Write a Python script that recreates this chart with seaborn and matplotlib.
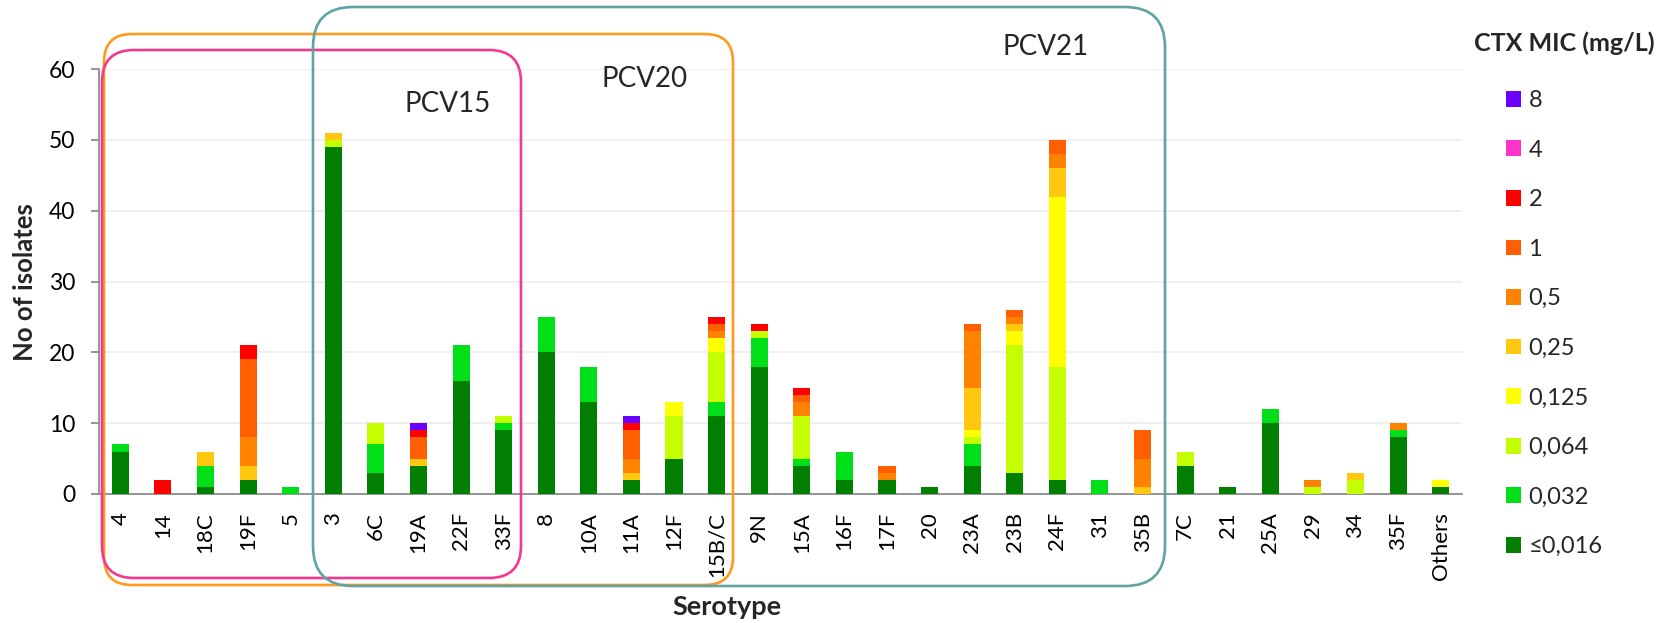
import matplotlib
matplotlib.use("Agg")
import matplotlib.pyplot as plt
from matplotlib.patches import FancyBboxPatch, Patch
from matplotlib.transforms import IdentityTransform
import seaborn as sns
import numpy as np
import pandas as pd

# ---------------- data ----------------
categories = ["4", "14", "18C", "19F", "5", "3", "6C", "19A", "22F", "33F",
              "8", "10A", "11A", "12F", "15B/C", "9N", "15A", "16F", "17F", "20",
              "23A", "23B", "24F", "31", "35B", "7C", "21", "25A", "29", "34",
              "35F", "Others"]

mic_levels = ["≤0,016", "0,032", "0,064", "0,125", "0,25", "0,5", "1", "2", "4", "8"]
mic_colors = ["#007F00", "#00DF18", "#C3FF00", "#FFFF00", "#FFC80F",
              "#FF8200", "#FF5F00", "#FF0000", "#FF35C8", "#6A00FF"]

#                 4 14 18C 19F 5  3  6C 19A 22F 33F 8  10A 11A 12F 15BC 9N 15A 16F 17F 20 23A 23B 24F 31 35B 7C 21 25A 29 34 35F Oth
mic_le0016 = [6, 0, 1, 2, 0, 49, 3, 4, 16, 9, 20, 13, 2, 5, 11, 18, 4, 2, 2, 1, 4, 3, 2, 0, 0, 4, 1, 10, 0, 0, 8, 1]
mic_0032   = [1, 0, 3, 0, 1, 0, 4, 0, 5, 1, 5, 5, 0, 0, 2, 4, 1, 4, 0, 0, 3, 0, 0, 2, 0, 0, 0, 2, 0, 0, 1, 0]
mic_0064   = [0, 0, 0, 0, 0, 1, 3, 0, 0, 1, 0, 0, 0, 6, 7, 1, 6, 0, 0, 0, 1, 18, 16, 0, 0, 2, 0, 0, 1, 2, 0, 0]
mic_0125   = [0, 0, 0, 0, 0, 0, 0, 0, 0, 0, 0, 0, 0, 2, 2, 0, 0, 0, 0, 0, 1, 2, 24, 0, 0, 0, 0, 0, 0, 0, 0, 1]
mic_025    = [0, 0, 2, 2, 0, 1, 0, 1, 0, 0, 0, 0, 1, 0, 0, 0, 0, 0, 0, 0, 6, 1, 4, 0, 1, 0, 0, 0, 0, 1, 0, 0]
mic_05     = [0, 0, 0, 4, 0, 0, 0, 0, 0, 0, 0, 0, 2, 0, 1, 0, 2, 0, 1, 0, 8, 1, 2, 0, 4, 0, 0, 0, 1, 0, 1, 0]
mic_1      = [0, 0, 0, 11, 0, 0, 0, 3, 0, 0, 0, 0, 4, 0, 1, 0, 1, 0, 1, 0, 1, 1, 2, 0, 4, 0, 0, 0, 0, 0, 0, 0]
mic_2      = [0, 2, 0, 2, 0, 0, 0, 1, 0, 0, 0, 0, 1, 0, 1, 1, 1, 0, 0, 0, 0, 0, 0, 0, 0, 0, 0, 0, 0, 0, 0, 0]
mic_4      = [0] * 32
mic_8      = [0, 0, 0, 0, 0, 0, 0, 1, 0, 0, 0, 0, 1, 0, 0, 0, 0, 0, 0, 0, 0, 0, 0, 0, 0, 0, 0, 0, 0, 0, 0, 0]

series = [mic_le0016, mic_0032, mic_0064, mic_0125, mic_025,
          mic_05, mic_1, mic_2, mic_4, mic_8]

df = pd.DataFrame({lvl: vals for lvl, vals in zip(mic_levels, series)}, index=categories)
cum = df.cumsum(axis=1)

# ---------------- figure ----------------
sns.set_theme(style="white")
plt.rcParams["font.family"] = ["Lato", "DejaVu Sans"]

W, H = 1666, 623
fig = plt.figure(figsize=(W / 100, H / 100), dpi=100)
ax = fig.add_axes([99 / W, 1 - 494 / H, (1462 - 99) / W, (494 - 69) / H])

# stacked bars: draw cumulative totals from top level down so lower layers overlay
for lvl, col in reversed(list(zip(mic_levels, mic_colors))):
    d = pd.DataFrame({"Serotype": categories, "val": cum[lvl].values})
    sns.barplot(data=d, x="Serotype", y="val", order=categories, color=col,
                saturation=1, width=0.4, linewidth=0, errorbar=None, ax=ax, zorder=3)

ax.set_xlim(-0.5, len(categories) - 0.5)
ax.set_ylim(0, 60)
ax.set_yticks(range(0, 61, 10))
ax.yaxis.grid(True, color="#EEEEEE", linewidth=1.3, zorder=0)
ax.xaxis.grid(False)
ax.set_axisbelow(True)

for s in ["top", "right"]:
    ax.spines[s].set_visible(False)
for s in ["left", "bottom"]:
    ax.spines[s].set_color("#8C8C8C")
    ax.spines[s].set_linewidth(1.3)

ax.set_xticks(range(len(categories)))
ax.set_xticklabels(categories, rotation=90, fontsize=16)
ax.set_xticks(np.arange(-0.5, len(categories), 1.0), minor=True)
ax.tick_params(axis="x", which="major", length=0, pad=13, colors="black")
ax.tick_params(axis="x", which="minor", length=6, width=1.3, color="#8C8C8C", direction="out")
ax.tick_params(axis="y", which="major", length=6, width=1.3, color="#8C8C8C",
               direction="out", left=True, pad=11, labelsize=16.5, labelcolor="black")
ax.set_xlabel("")
ax.set_ylabel("")

fig.text(25 / W, 1 - 282 / H, "No of isolates", rotation=90, ha="center", va="center",
         fontsize=18.5, fontweight="bold")
fig.text(727 / W, 1 - 607 / H, "Serotype", ha="center", va="center",
         fontsize=19.5, fontweight="bold")

# vaccine group boxes (pixel coordinates, origin top-left -> convert)
def box(x0, y0, x1, y1, color, r):
    p = FancyBboxPatch((x0, H - y1), x1 - x0, y1 - y0,
                       boxstyle=f"round,pad=0,rounding_size={r}",
                       transform=IdentityTransform(), fill=False,
                       edgecolor=color, linewidth=1.9, zorder=5)
    fig.add_artist(p)

box(104, 34, 733, 585, "#FF9A1E", 28)
box(102, 50, 521, 578, "#F5388F", 32)
box(313, 7, 1165, 586, "#5FA3A3", 40)

fig.text(448 / W, 1 - 104 / H, "PCV15", ha="center", va="center", fontsize=20)
fig.text(645 / W, 1 - 79 / H, "PCV20", ha="center", va="center", fontsize=20)
fig.text(1046 / W, 1 - 47 / H, "PCV21", ha="center", va="center", fontsize=20)

# legend
handles = [Patch(facecolor=c, edgecolor="none", label=l)
           for l, c in zip(reversed(mic_levels), reversed(mic_colors))]
fig.text(1564 / W, 1 - 43 / H, "CTX MIC (mg/L)", ha="center", va="center",
         fontsize=18, fontweight="bold")
fig.legend(handles=handles, loc="upper left", bbox_to_anchor=(1506 / W, 1 - 90 / H),
           frameon=False, fontsize=17, handlelength=0.65, handleheight=0.65,
           handletextpad=0.3, labelspacing=1.21, borderpad=0, borderaxespad=0)

fig.savefig("out.png", dpi=100)
